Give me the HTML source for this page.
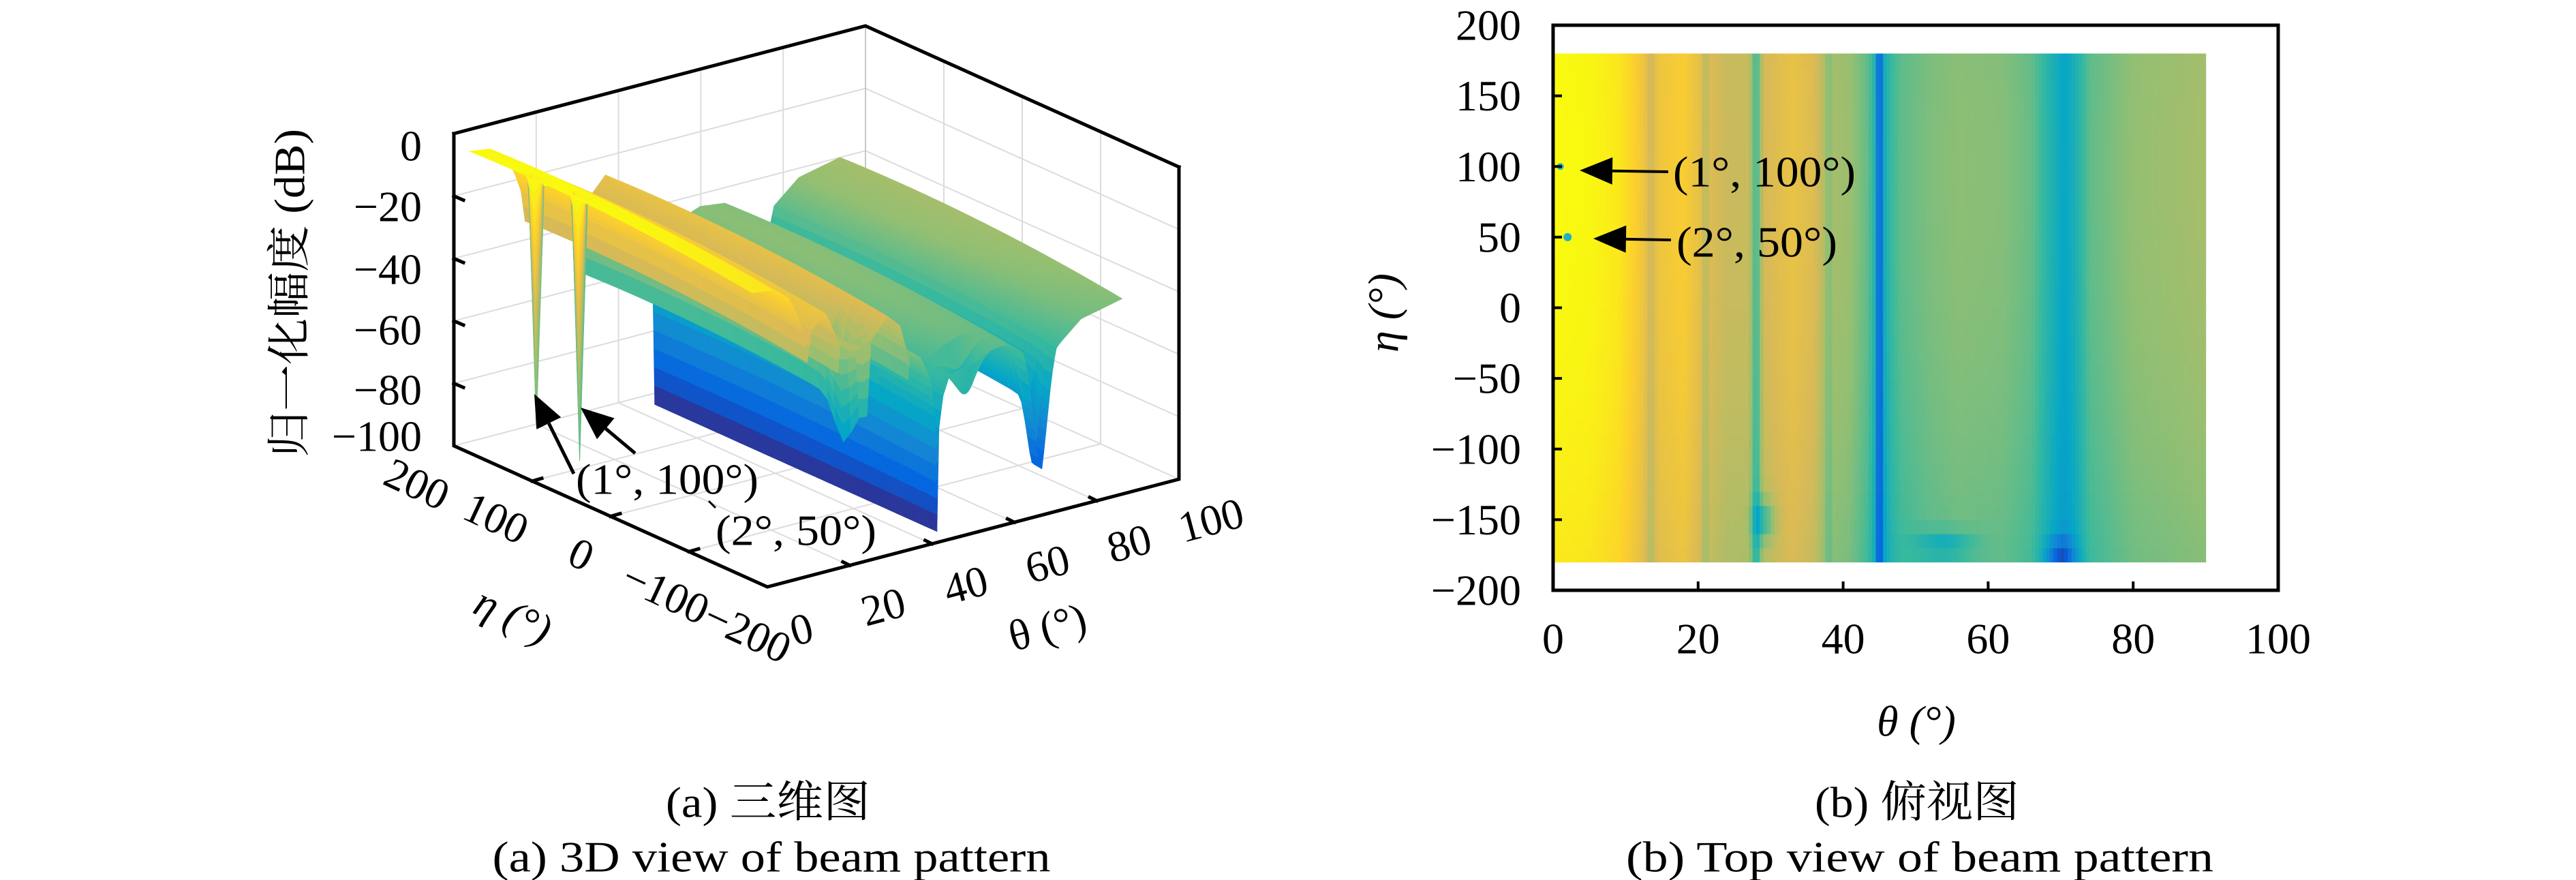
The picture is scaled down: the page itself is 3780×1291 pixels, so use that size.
<!DOCTYPE html>
<html><head><meta charset="utf-8">
<style>
html,body{margin:0;padding:0;background:#fff;}
svg{display:block;}
text{font-family:"Liberation Serif","Noto Serif CJK SC",serif;fill:#000;}
</style></head>
<body>
<svg id="s" width="3780" height="1291" viewBox="0 0 3780 1291" xmlns="http://www.w3.org/2000/svg">
<g id="grid3d" stroke="#dcdcdc" stroke-width="2" fill="none"></g>
<g id="surf"></g>
<g id="box3d" stroke="#000" stroke-width="5" fill="none" stroke-linecap="square"></g>
<g id="heat"></g>
<g id="txt"></g>
</svg>
<script>
(function(){
var NS="http://www.w3.org/2000/svg";
function el(tag,attrs,parent,txt){var e=document.createElementNS(NS,tag);for(var k in attrs)e.setAttribute(k,attrs[k]);if(txt!==undefined)e.textContent=txt;(parent||document.getElementById('s')).appendChild(e);return e;}
var PAR=[[0,[53,42,135]],[0.125,[3,99,225]],[0.25,[20,133,212]],[0.375,[6,167,198]],[0.5,[56,185,158]],[0.625,[146,191,115]],[0.75,[217,186,86]],[0.875,[252,206,46]],[1,[249,251,14]]];
function col(z){var t=(z+100)/97;if(t<0)t=0;if(t>1)t=1;for(var i=1;i<PAR.length;i++){if(t<=PAR[i][0]){var a=PAR[i-1],b=PAR[i],f=(t-a[0])/(b[0]-a[0]);return 'rgb('+Math.round(a[1][0]+f*(b[1][0]-a[1][0]))+','+Math.round(a[1][1]+f*(b[1][1]-a[1][1]))+','+Math.round(a[1][2]+f*(b[1][2]-a[1][2]))+')';}}return 'rgb(249,251,14)';}
var K=[[0,-3],[5,-4],[9,-8],[11,-14],[12.5,-20],[13.5,-30],[14.5,-20],[18,-16],[20.5,-24],[21,-36],[21.5,-26],[24,-30],[27,-30],[28,-52],[29,-28],[33,-22],[36,-26],[37.5,-34],[38,-44],[38.5,-36],[41,-38],[43.5,-46],[44.5,-58],[45,-100],[45.5,-62],[46.5,-52],[48,-46],[52,-42],[56,-40],[62,-41],[66,-45],[68.5,-56],[70.5,-64],[72,-58],[74,-46],[80,-39],[90,-36]];
function base(t){for(var i=1;i<K.length;i++){if(t<=K[i][0]){var a=K[i-1],b=K[i];return a[1]+(t-a[0])/(b[0]-a[0])*(b[1]-a[1]);}}return -36;}
function Z(t,e,nonull){var z=base(t);z+=-5*Math.pow((e-100)/280,2);
 if(!nonull){
 z+=-80*Math.exp(-Math.pow((t-1)/0.35,2)-Math.pow((e-100)/5,2));
 z+=-85*Math.exp(-Math.pow((t-2)/0.35,2)-Math.pow((e-50)/5,2));}
 z+=-20*Math.exp(-Math.pow((t-29)/1.5,2)-Math.pow((e+150)/15,2));
 z+=-15*Math.exp(-Math.pow((t-54)/4,2)-Math.pow((e+168)/10,2));
 z+=-25*Math.exp(-Math.pow((t-70)/2,2)-Math.pow((e+175)/12,2));
 if(z<-100)z=-100;return z;}
var O=[1126,861],VT=[6.04,-1.58],VE=[-1.15,-0.5175],SZ=4.58;
function P(t,e,z){return [O[0]+VT[0]*t+VE[0]*(e+200),O[1]+VT[1]*t+VE[1]*(e+200)-SZ*(z+100)];}
function pl(pts){return pts.map(function(p){return p[0].toFixed(1)+','+p[1].toFixed(1);}).join(' ');}
var g=document.getElementById('grid3d');
function line(a,b,par,attrs){var o={x1:a[0],y1:a[1],x2:b[0],y2:b[1]};for(var k in attrs)o[k]=attrs[k];return el('line',o,par);}
[20,40,60,80].forEach(function(t){line(P(t,200,-100),P(t,200,0),g);});
[-80,-60,-40,-20,0].forEach(function(z){line(P(0,200,z),P(100,200,z),g);line(P(100,200,z),P(100,-200,z),g);});
[100,0,-100].forEach(function(e){line(P(100,e,-100),P(100,e,0),g);line(P(0,e,-100),P(100,e,-100),g);});
[20,40,60,80].forEach(function(t){line(P(t,200,-100),P(t,-200,-100),g);});
line(P(100,200,-100),P(100,200,0),g,{stroke:'#c8c8c8'});
line(P(0,200,-100),P(100,200,-100),g);line(P(100,200,-100),P(100,-200,-100),g);
var s=document.getElementById('surf');
var dt=0.5,de=10;
var frag=[];
for(var t=90-dt;t>=-1e-9;t-=dt){
 for(var e=180-de;e>=-180-1e-9;e-=de){
  var z00=Z(t,e),z10=Z(t+dt,e),z01=Z(t,e+de),z11=Z(t+dt,e+de);
  var dz=Math.max(Math.abs(z00-z10),Math.abs(z01-z11));
  var n=Math.max(1,Math.ceil(dz/6));
  for(var k=0;k<n;k++){
   var f0=k/n,f1=(k+1)/n;
   var a0=z00+(z10-z00)*f0,a1=z00+(z10-z00)*f1,b0=z01+(z11-z01)*f0,b1=z01+(z11-z01)*f1;
   var t0=t+dt*f0,t1=t+dt*f1;
   var c=col((a0+a1+b0+b1)/4);
   frag.push('<polygon points="'+pl([P(t0,e,a0),P(t1,e,a1),P(t1,e+de,b1),P(t0,e+de,b0)])+'" fill="'+c+'" stroke="'+c+'" stroke-width="0.8"/>');
  }
 }
}
s.innerHTML=frag.join('');
var b=document.getElementById('box3d');
el('polyline',{points:pl([P(0,200,0),P(0,200,-100),P(0,-200,-100),P(100,-200,-100),P(100,-200,0)])},b);
el('polyline',{points:pl([P(0,200,0),P(100,200,0),P(100,-200,0)])},b);
[-80,-60,-40,-20].forEach(function(z){var a=P(0,200,z);line(a,[a[0]+14,a[1]+6],b,{'stroke-width':5});});
[100,0,-100].forEach(function(e){var a=P(0,e,-100);line(a,[a[0]+14,a[1]-4],b,{'stroke-width':5});});
[20,40,60,80].forEach(function(t){var a=P(t,-200,-100);line(a,[a[0]-10,a[1]-5],b,{'stroke-width':5});});
var h=document.getElementById('heat');
var X0=2279,X1=3343,Y0=37,Y1=866;
function hx(t){return X0+(X1-X0)*t/100;}function hy(e){return Y0+(Y1-Y0)*(200-e)/400;}
var hf=[];
for(var t=0;t<90-1e-9;t+=0.5){for(var e=-180;e<180-1e-9;e+=10){
 var zz=Z(t+0.25,e+5,true);
 var c=col(zz);var x=hx(t),y=hy(e+10);
 hf.push('<rect x="'+x.toFixed(1)+'" y="'+y.toFixed(1)+'" width="'+(hx(t+0.5)-x+0.6).toFixed(1)+'" height="'+(hy(e)-y+0.6).toFixed(1)+'" fill="'+c+'"/>');
}}
h.innerHTML=hf.join('');
el('circle',{cx:hx(1),cy:hy(100),r:5,fill:'#20b0c8'},h);
el('circle',{cx:hx(2),cy:hy(50),r:6,fill:'#20b0c8'},h);
el('rect',{x:X0,y:Y0,width:X1-X0,height:Y1-Y0,fill:'none',stroke:'#000','stroke-width':5},h);
for(var v=20;v<=80;v+=20){line([hx(v),Y1],[hx(v),Y1-13],h,{stroke:'#000','stroke-width':4});}
for(var v=-150;v<=150;v+=50){line([X0,hy(v)],[X0+13,hy(v)],h,{stroke:'#000','stroke-width':4});}
var T=document.getElementById('txt');
function tx(x,y,str,o){var a={x:x,y:y,'font-size':64,'text-anchor':'middle','dominant-baseline':'central'};for(var k in o)a[k]=o[k];if(a.textLength)a.lengthAdjust='spacingAndGlyphs';return el('text',a,T,str);}
for(var v=0;v<=100;v+=20)tx(hx(v),937,String(v));
for(var v=-200;v<=200;v+=50)tx(2232,hy(v),(v<0?'\u2212'+(-v):String(v)),{'text-anchor':'end'});
tx(2812,1058,'\u03b8 (\u00b0)',{'font-style':'italic'});
tx(2030,459,'\u03b7 (\u00b0)',{'font-style':'italic',transform:'rotate(-90 2030 459)'});
function arrow(x1,y1,x2,y2,w){var ang=Math.atan2(y2-y1,x2-x1),L=48,W=20;var bx=x2-L*Math.cos(ang),by=y2-L*Math.sin(ang);
 line([x1,y1],[bx,by],T,{stroke:'#000','stroke-width':w||4});
 el('polygon',{points:pl([[x2,y2],[bx+W*Math.sin(ang),by-W*Math.cos(ang)],[bx-W*Math.sin(ang),by+W*Math.cos(ang)]]),fill:'#000'},T);}
arrow(2448,252,2318,250);arrow(2452,352,2338,350);
tx(2455,252,'(1\u00b0, 100\u00b0)',{'text-anchor':'start',textLength:268});
tx(2460,355,'(2\u00b0, 50\u00b0)',{'text-anchor':'start',textLength:236});
var zt=[[0,214],[-20,303],[-40,395],[-60,484],[-80,572],[-100,640]];
zt.forEach(function(p){tx(619,p[1],(p[0]<0?'\u2212'+(-p[0]):'0'),{'text-anchor':'end'});});
tx(425,430,'\u5f52\u4e00\u5316\u5e45\u5ea6 (dB)',{transform:'rotate(-90 425 430)',textLength:482});
[['200',612,710],['100',728,760],['0',853,813],['\u2212100',977,870],['\u2212200',1097,927]].forEach(function(p){tx(p[1],p[2],p[0],{transform:'rotate(25 '+p[1]+' '+p[2]+')'});});
tx(753,903,'\u03b7 (\u00b0)',{'font-style':'italic',transform:'rotate(25 753 903)'});
[['0',1176,923],['20',1296,890],['40',1417,858],['60',1537,827],['80',1657,797],['100',1777,763]].forEach(function(p){tx(p[1],p[2],p[0],{transform:'rotate(-15 '+p[1]+' '+p[2]+')'});});
tx(1537,920,'\u03b8 (\u00b0)',{transform:'rotate(-15 1537 920)'});
arrow(842,695,784,578,5);arrow(932,665,852,598,5);
line([1040,735],[1050,745],T,{stroke:'#000','stroke-width':3});
tx(979,703,'(1\u00b0, 100\u00b0)',{textLength:268});
tx(1168,778,'(2\u00b0, 50\u00b0)',{textLength:236});
tx(1127,1177,'(a) \u4e09\u7ef4\u56fe',{textLength:300});
tx(1132,1257,'(a) 3D view of beam pattern',{textLength:819});
tx(2813,1177,'(b) \u4fef\u89c6\u56fe',{textLength:300});
tx(2817,1257,'(b) Top view of beam pattern',{textLength:862});
})();
</script>
</body></html>
